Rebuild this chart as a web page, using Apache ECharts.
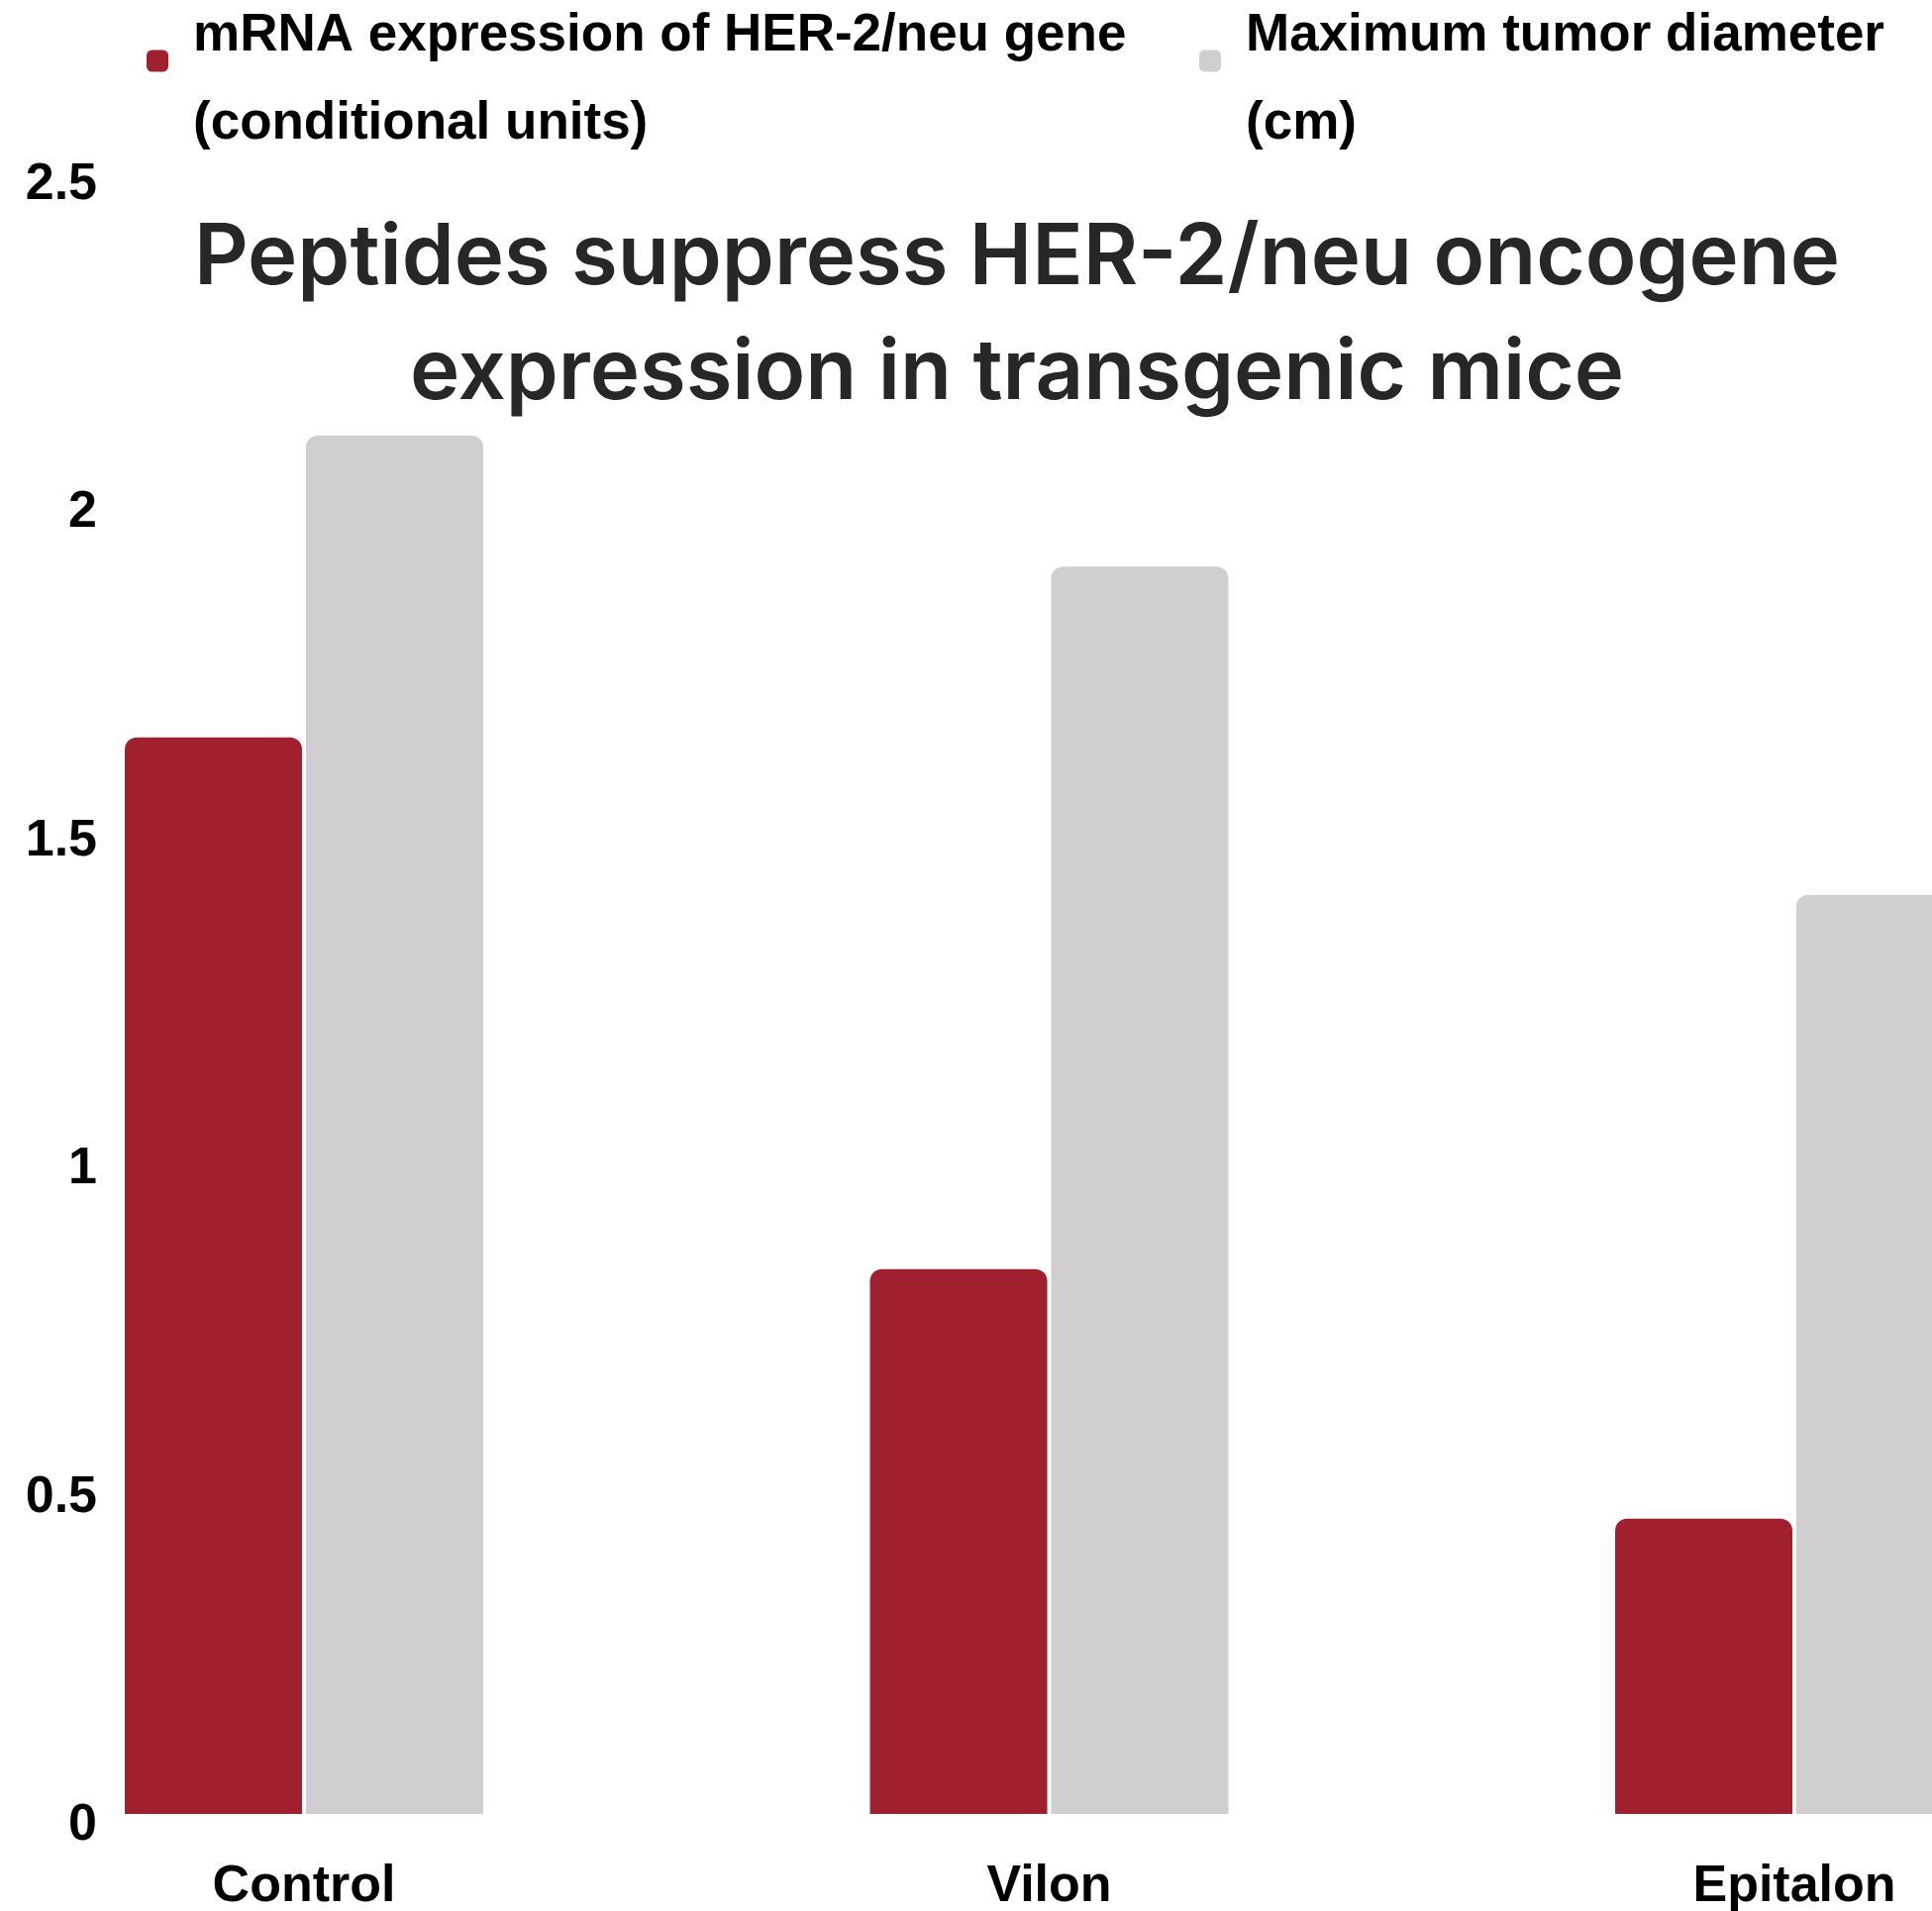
<!DOCTYPE html>
<html>
<head>
<meta charset="utf-8">
<script src="https://cdn.jsdelivr.net/npm/echarts@6/dist/echarts.min.js"></script>
<style>
html,body{margin:0;padding:0;background:#fff;}
#chart{width:1951px;height:1930px;}
</style>
</head>
<body>
<div id="chart"></div>
<script>
const categories = ['Control', 'Vilon', 'Epitalon'];
const seriesNames = ['mRNA expression of HER-2/neu gene\n(conditional units)', 'Maximum tumor diameter\n(cm)'];
const mrnaValues = [1.64, 0.83, 0.45];
const diameterValues = [2.10, 1.90, 1.40];
const yTicks = { min: 0, max: 2.5, interval: 0.5 };
const titleText = 'Peptides suppress HER-2/neu oncogene\nexpression in transgenic mice';

const chart = echarts.init(document.getElementById('chart'));
const baseFont = { fontSize: 53, fontWeight: 'bold', fontFamily: 'Liberation Sans, Arial, sans-serif', color: '#000' };
const legendText = {
  ...baseFont,
  padding: [0, 0, 0, 20],
  rich: {
    a: { ...baseFont, lineHeight: 128 },
    b: { ...baseFont, lineHeight: 50 }
  }
};
const legendFormatter = name => {
  const parts = name.split('\n');
  return '{a|' + parts[0] + '}\n{b|' + parts[1] + '}';
};
chart.setOption({
  backgroundColor: '#fff',
  animation: false,
  title: {
    text: titleText,
    left: 1027,
    textAlign: 'center',
    top: 203,
    padding: 0,
    textStyle: {
      fontFamily: 'Inter, Open Sans, sans-serif',
      fontWeight: 600,
      fontSize: 85,
      lineHeight: 116,
      color: '#272727'
    }
  },
  legend: [
    {
      data: [seriesNames[0]], left: 148, top: 10, padding: 0,
      icon: 'roundRect', itemWidth: 22, itemHeight: 22,
      formatter: legendFormatter,
      textStyle: legendText
    },
    {
      data: [seriesNames[1]], left: 1211, top: 10, padding: 0,
      icon: 'roundRect', itemWidth: 22, itemHeight: 22,
      formatter: legendFormatter,
      textStyle: legendText
    }
  ],
  grid: { left: -69.25, right: -237.25, top: 174.5, bottom: 98, containLabel: false, outerBoundsMode: 'none' },
  xAxis: {
    type: 'category',
    data: categories,
    axisLine: { show: false },
    axisTick: { show: false },
    axisLabel: {
      fontSize: 52, fontWeight: 'bold', fontFamily: 'Liberation Sans, Arial, sans-serif',
      color: '#000', margin: 48
    }
  },
  yAxis: {
    type: 'value',
    min: yTicks.min, max: yTicks.max, interval: yTicks.interval,
    offset: -175.25,
    axisLine: { show: false },
    axisTick: { show: false },
    splitLine: { show: false },
    axisLabel: {
      fontSize: 52, fontWeight: 'bold', fontFamily: 'Liberation Sans, Arial, sans-serif',
      color: '#000', margin: 8, verticalAlign: 'top', lineHeight: 24
    }
  },
  series: [
    {
      name: seriesNames[0], type: 'bar', data: mrnaValues,
      barWidth: 179, barGap: '2.2%',
      itemStyle: { color: '#A02030', borderRadius: [12, 12, 0, 0] }
    },
    {
      name: seriesNames[1], type: 'bar', data: diameterValues,
      barWidth: 179, barGap: '2.2%',
      itemStyle: { color: '#D0CECF', borderRadius: [12, 12, 0, 0] }
    }
  ]
});
</script>
</body>
</html>
